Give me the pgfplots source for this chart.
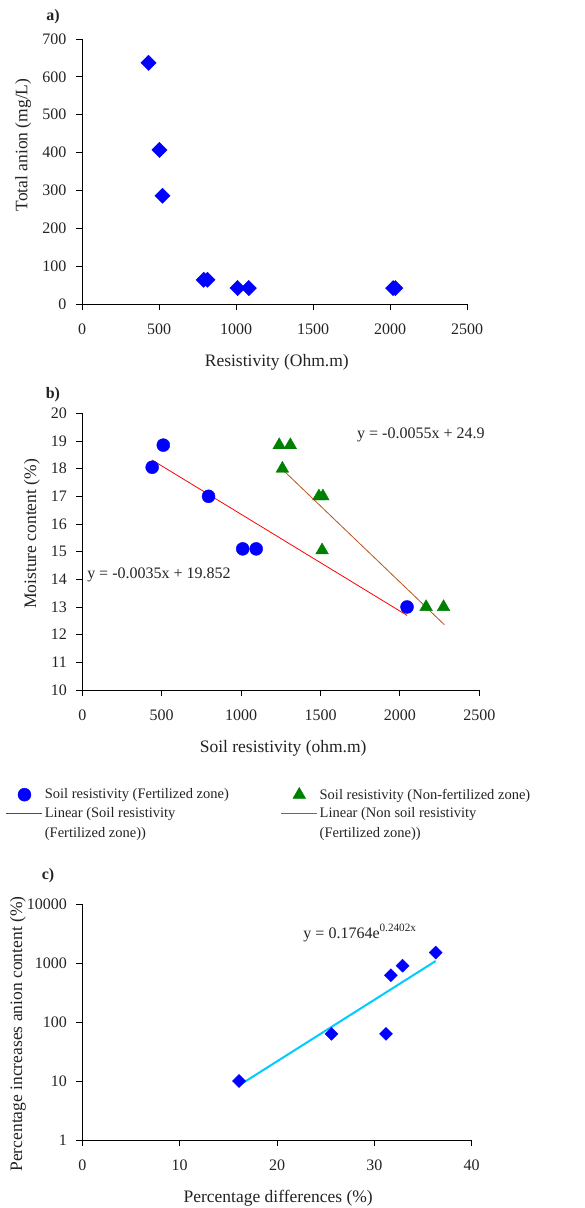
\documentclass[border=0pt]{standalone}
\usepackage{fontspec}
\setmainfont{Liberation Serif}
\usepackage{pgfplots}
\pgfplotsset{compat=1.18}
\definecolor{mblue}{RGB}{0,0,255}
\definecolor{mgreen}{RGB}{0,128,0}
\definecolor{mred}{RGB}{255,0,0}
\definecolor{mbrown}{RGB}{185,80,25}
\definecolor{mcyan}{RGB}{0,204,255}
\definecolor{txt}{RGB}{35,35,35}
\pgfplotsset{
  common/.style={
    scale only axis,
    axis lines*=left,
    axis line style={black, line width=0.9pt},
    tick align=outside,
    major tick length=6pt,
    tick style={black, line width=0.9pt},
    /pgf/number format/assume math mode=true,
    ticklabel style={font=\fontsize{16}{19}\selectfont, text=txt},
    xticklabel style={yshift=-10pt},
    yticklabel style={xshift=-6pt},
    label style={font=\fontsize{17.5}{20}\selectfont, text=txt},
    title style={font=\fontsize{16}{19}\selectfont\bfseries, text=txt},
    scaled ticks=false,
    clip=false,
  }
}
\begin{document}
\begin{tikzpicture}
\useasboundingbox (0,0) rectangle (584pt,1208pt);
% ---------- a) ----------
\begin{axis}[common,
  at={(82pt,904pt)}, anchor=south west,
  width=385pt, height=265pt,
  xmin=0, xmax=2500, ymin=0, ymax=700,
  xtick={0,500,...,2500}, ytick={0,100,...,700},
  xticklabel style={/pgf/number format/1000 sep={}},
  xlabel={Resistivity (Ohm.m)},
  ylabel={Total anion (mg/L)},
  xlabel style={at={(axis description cs:0.506,-0.219)}, anchor=center},
  ylabel style={at={(axis description cs:-0.153,0.6)}, anchor=center},
  title={a)}, title style={at={(axis description cs:-0.075,1.06)}, anchor=center, yshift=0pt},
]
\addplot[only marks, mark=square*, mark size=5.4pt, mark options={rotate=45, fill=mblue, draw=mblue}]
coordinates {(432,637) (503,407) (523,286) (790,64) (815,64) (1010,42) (1083,42) (2020,42) (2035,42)};
\end{axis}
% ---------- b) ----------
\begin{axis}[common,
  at={(82.3pt,518pt)}, anchor=south west,
  width=397pt, height=276.7pt,
  xmin=0, xmax=2500, ymin=10, ymax=20,
  xtick={0,500,...,2500}, ytick={10,11,...,20},
  xticklabel style={/pgf/number format/1000 sep={}},
  xlabel={Soil resistivity (ohm.m)},
  ylabel={Moisture content (\%)},
  xlabel style={at={(axis description cs:0.506,-0.21)}, anchor=center},
  ylabel style={at={(axis description cs:-0.127,0.564)}, anchor=center},
  title={b)}, title style={at={(axis description cs:-0.074,1.045)}, anchor=center, yshift=0pt},
  legend columns=2,
  legend image code/.code={\draw[mark repeat=2,mark phase=2,#1] plot coordinates {(0pt,0pt) (18pt,0pt) (36pt,0pt)};},
  legend style={draw=none, fill=none, inner sep=0pt, outer sep=0pt,
    at={(axis description cs:-0.192,-0.35)}, anchor=north west,
    font=\fontsize{14.5}{20}\selectfont, text=txt,
    cells={anchor=west},
    row sep=3pt,
    /tikz/every even column/.append style={column sep=4pt},
  },
]
\addplot[only marks, mark=*, mark size=6.5pt, mark options={fill=mblue, draw=mblue}]
coordinates {(440,18.05) (510,18.85) (795,17.0) (1010,15.1) (1095,15.1) (2045,13.0)};
\addlegendentry{\parbox[t]{230pt}{Soil resistivity (Fertilized zone)}}
\addplot[only marks, mark=triangle*, mark size=7.3pt, mark options={fill=mgreen, draw=mgreen}]
coordinates {(1240,18.85) (1310,18.85) (1260,18.0) (1490,17.0) (1515,17.0) (1510,15.05) (2165,13.0) (2275,13.0)};
\addlegendentry{\parbox[t]{235pt}{Soil resistivity (Non-fertilized zone)}}
\addplot[mred, line width=0.8pt, mark=none] coordinates {(440,18.31) (2045,12.695)};
\addlegendentry{\parbox[t]{230pt}{Linear (Soil resistivity\\(Fertilized zone))}}
\addplot[mbrown, line width=0.8pt, mark=none] coordinates {(1240,18.08) (2280,12.36)};
\addlegendentry{\parbox[t]{235pt}{Linear (Non soil resistivity\\(Fertilized zone))}}
\node[anchor=west, inner sep=0pt, font=\fontsize{16}{19}\selectfont, text=txt] at (axis cs:1730,19.22) {y = -0.0055x + 24.9};
\node[anchor=west, inner sep=0pt, font=\fontsize{16}{19}\selectfont, text=txt] at (axis cs:30,14.16) {y = -0.0035x + 19.852};
\end{axis}
% ---------- c) ----------
\begin{axis}[common,
  at={(82.3pt,68pt)}, anchor=south west,
  width=389.4pt, height=236pt,
  xmin=0, xmax=40, ymin=1, ymax=10000,
  ymode=log, log ticks with fixed point, yminorticks=false,
  xtick={0,10,...,40}, ytick={1,10,100,1000,10000},
  yticklabel style={/pgf/number format/1000 sep={}},
  xlabel={Percentage differences (\%)},
  ylabel={Percentage increases anion content (\%)},
  xlabel style={at={(axis description cs:0.503,-0.246)}, anchor=center},
  ylabel style={at={(axis description cs:-0.165,0.449)}, anchor=center},
  title={c)}, title style={at={(axis description cs:-0.088,1.094)}, anchor=center, yshift=0pt},
]
\addplot[mcyan, line width=2pt, mark=none] coordinates {(16.1,8.43) (36.3,1080)};
\addplot[only marks, mark=square*, mark size=4.6pt, mark options={rotate=45, fill=mblue, draw=mblue}]
coordinates {(16.1,10) (25.6,63) (31.2,63) (31.7,620) (32.9,900) (36.3,1500)};
\node[anchor=west, inner sep=0pt, font=\fontsize{16}{19}\selectfont, text=txt] at (axis cs:22.7,3221) {y = 0.1764e\textsuperscript{0.2402x}};
\end{axis}
\end{tikzpicture}
\end{document}
